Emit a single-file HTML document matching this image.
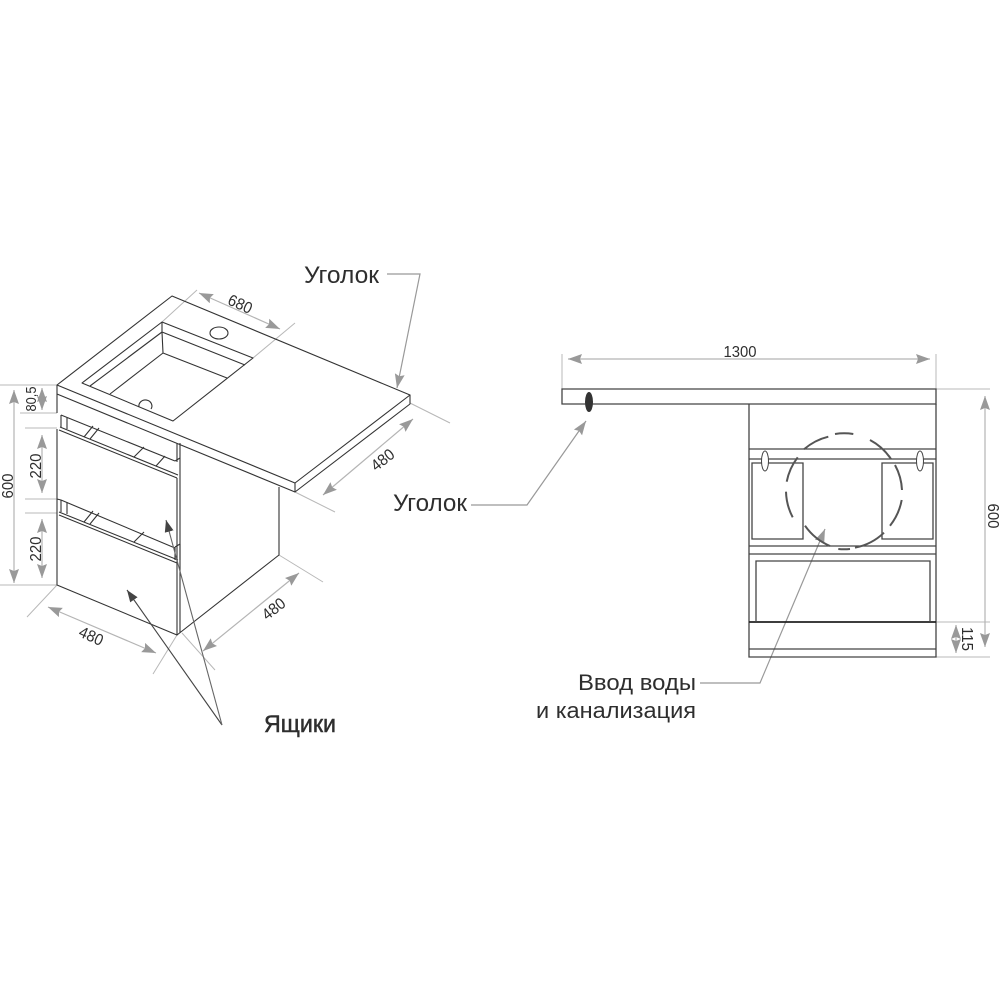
<!DOCTYPE html>
<html><head><meta charset="utf-8"><style>html,body{margin:0;padding:0;background:#fff}svg{display:block}text{font-family:"Liberation Sans",sans-serif;fill:#2e2e2e}</style></head><body>
<svg width="1000" height="1000" viewBox="0 0 1000 1000" xmlns="http://www.w3.org/2000/svg">
<defs>
<marker id="a" markerUnits="userSpaceOnUse" markerWidth="16" markerHeight="12" refX="14" refY="5" orient="auto-start-reverse"><path d="M0 0L14 5L0 10L2 5z" fill="#999"/></marker>
<marker id="d" markerUnits="userSpaceOnUse" markerWidth="14" markerHeight="10" refX="12" refY="4.5" orient="auto"><path d="M0 0L12 4.5L0 9z" fill="#444"/></marker>
</defs>
<!-- extension lines -->
<g stroke="#b8b8b8" stroke-width="1" fill="none">
<path d="M0 385H57M20 413H57M25 428H57M25 499H57M25 513H57M0 585H57"/>
<path d="M57 585L27 617M177 635L153 674M182 633L215 670M279 555L323 582"/>
<path d="M197 290L162 322M295 323L253 358M410 403L450 423M295 492L335 512"/>
<path d="M562 354V389M936 354V389M936 389H990M936 622H990M936 657H990"/>
</g>
<!-- dimension arrows -->
<g stroke="#b4b4b4" stroke-width="1.2" fill="none">
<path d="M14 390V583" marker-start="url(#a)" marker-end="url(#a)"/>
<path d="M42 388V410" marker-start="url(#a)" marker-end="url(#a)"/>
<path d="M42 435V493" marker-start="url(#a)" marker-end="url(#a)"/>
<path d="M42 519V578" marker-start="url(#a)" marker-end="url(#a)"/>
<path d="M48 607L156 653" marker-start="url(#a)" marker-end="url(#a)"/>
<path d="M299 573L203 651" marker-start="url(#a)" marker-end="url(#a)"/>
<path d="M199 293L280 329" marker-start="url(#a)" marker-end="url(#a)"/>
<path d="M413 419L323 495" marker-start="url(#a)" marker-end="url(#a)"/>
<path d="M568 359H930" marker-start="url(#a)" marker-end="url(#a)"/>
<path d="M985 396V647" marker-start="url(#a)" marker-end="url(#a)"/>
<path d="M956 625V653" marker-start="url(#a)" marker-end="url(#a)"/>
</g>
<!-- callouts -->
<g stroke="#999" stroke-width="1.2" fill="none">
<path d="M387 274H420L397 388" marker-end="url(#a)"/>
<path d="M471 505H527L586 421" marker-end="url(#a)"/>
<path d="M700 683H760L825 529" marker-end="url(#a)"/>
</g>
<!-- isometric cabinet -->
<g stroke="#333" stroke-width="1.1" fill="none" stroke-linejoin="round">
<path d="M57 385L172 296L410 395L295 483Z"/>
<path d="M410 395V404L295 492V483M57 385V413M57 394L295 492"/>
<path d="M82 383L162 322L253 358L173 421Z"/>
<path d="M162 322L162 332L163 353M162 332L245 365M90 386L162 332M110 394L163 353L227 378"/>
<path d="M139 407A6.5 6 0 1 1 151 409"/>
<ellipse cx="219" cy="333" rx="9" ry="6"/>
<path d="M61 415L175 461M60 427L178 475M59 430L177 478M61 415V427M67 417V429"/>
<path d="M57 429V585L177 635V478M61 500L175 548M59 512L178 560M59 515L177 563M57 499L61 500"/>
<path d="M61 500V512M67 502V514M177 443V462M180 443V633M177 635L279 555V487"/>
<path d="M175 547L180 544V560M175 547V560M175 461L180 458"/>
<path d="M84 437L93 426M90 439L99 428M134 457L144 447M156 466L165 456M84 522L93 511M90 524L99 513M134 542L144 532"/>
</g>
<!-- Ящики leaders -->
<path d="M222 725L127 590" stroke="#444" stroke-width="1.1" fill="none" marker-end="url(#d)"/>
<path d="M222 725L166 520" stroke="#666" stroke-width="1.1" fill="none" marker-end="url(#d)"/>
<!-- front view -->
<g stroke="#444" stroke-width="1.3" fill="none">
<path d="M562 389H936V404H562Z"/>
<path d="M749 404V657H936V404"/>
<path d="M749 449H936M749 459H936M749 546H936M749 554H936M749 649H936"/>
<path d="M749 622H936" stroke-width="1.7" stroke="#222"/>
<path d="M752 463H803V539H752ZM882 463H933V539H882Z"/>
<path d="M756 622V561H930V622"/>
</g>
<g stroke="#444" stroke-width="1" fill="#fff">
<ellipse cx="765" cy="461" rx="3.5" ry="10"/>
<ellipse cx="920" cy="461" rx="3.5" ry="10"/>
</g>
<g fill="none" stroke="#555" stroke-width="2">
<path d="M835 434A58 58 0 0 1 853.3 434"/>
<path d="M870 440A58 58 0 0 1 891 459"/>
<path d="M895 465A58 58 0 0 1 902 490"/>
<path d="M901.7 500A58 58 0 0 1 890 525.7"/>
<path d="M884 532.7A58 58 0 0 1 855 547.7"/>
<path d="M850 549A58 58 0 0 1 838.3 549"/>
<path d="M830 546A58 58 0 0 1 805 525.7"/>
<path d="M792.7 517.3A58 58 0 0 1 786 491.7"/>
<path d="M786.7 481.7A58 58 0 0 1 797.7 457.3"/>
<path d="M804 449.3A58 58 0 0 1 828.3 436.7"/>
</g>
<ellipse cx="589" cy="402" rx="4" ry="10" fill="#333"/>
<!-- labels -->
<g font-size="16">
<text transform="translate(13,486) rotate(-90)" text-anchor="middle" textLength="25" lengthAdjust="spacingAndGlyphs">600</text>
<text transform="translate(36,399) rotate(-90)" text-anchor="middle" textLength="25" lengthAdjust="spacingAndGlyphs" font-size="15">80,5</text>
<text transform="translate(41,466) rotate(-90)" text-anchor="middle" textLength="25" lengthAdjust="spacingAndGlyphs">220</text>
<text transform="translate(41,549) rotate(-90)" text-anchor="middle" textLength="25" lengthAdjust="spacingAndGlyphs">220</text>
<text transform="translate(89,641) rotate(24)" text-anchor="middle" textLength="25" lengthAdjust="spacingAndGlyphs">480</text>
<text transform="translate(277,613) rotate(-38)" text-anchor="middle" textLength="25" lengthAdjust="spacingAndGlyphs">480</text>
<text transform="translate(238,309) rotate(24)" text-anchor="middle" textLength="25" lengthAdjust="spacingAndGlyphs">680</text>
<text transform="translate(386,464) rotate(-38)" text-anchor="middle" textLength="25" lengthAdjust="spacingAndGlyphs">480</text>
<text x="740" y="357" text-anchor="middle" textLength="33" lengthAdjust="spacingAndGlyphs">1300</text>
<text transform="translate(988,516) rotate(90)" text-anchor="middle" textLength="25" lengthAdjust="spacingAndGlyphs">600</text>
<text transform="translate(962,639) rotate(90)" text-anchor="middle" textLength="24" lengthAdjust="spacingAndGlyphs">115</text>
</g>
<g font-size="24">
<text x="304" y="283" textLength="75" lengthAdjust="spacingAndGlyphs">Уголок</text>
<text x="393" y="511" textLength="74" lengthAdjust="spacingAndGlyphs">Уголок</text>
<text x="264" y="732" textLength="72" lengthAdjust="spacingAndGlyphs" stroke="#2e2e2e" stroke-width=".5">Ящики</text>
<text x="578" y="690" textLength="118" lengthAdjust="spacingAndGlyphs" font-size="22">Ввод воды</text>
<text x="536" y="718" textLength="160" lengthAdjust="spacingAndGlyphs" font-size="22">и канализация</text>
</g>
</svg>
</body></html>
